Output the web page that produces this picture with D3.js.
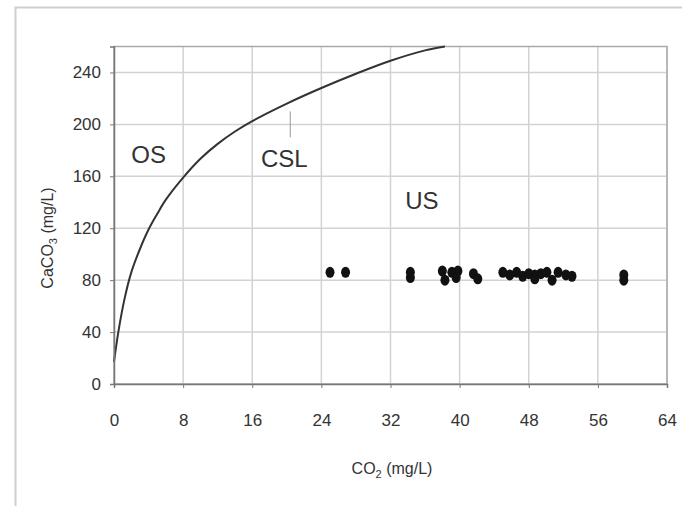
<!DOCTYPE html>
<html>
<head>
<meta charset="utf-8">
<script src="https://cdn.jsdelivr.net/npm/d3@7"></script>
<style>
  body { margin: 0; background: #fff; }
  svg text { font-family: "Liberation Sans", Arial, sans-serif; fill: #333; }
</style>
</head>
<body>
<div id="chart"></div>
<script>
// saturation line (CSL)
const cslCO2 = [0, 0.5, 1.2, 2, 3, 4, 5, 6, 8, 10, 12, 14, 16, 20, 24, 28, 32, 36, 38.3];
const cslCaCO3 = [17, 40, 65, 86, 104, 119, 131, 142, 159, 173.5, 185, 194.5, 202.5, 216, 228, 239, 249, 257, 260];

// measured samples
const sampleCO2 = [25.0, 26.8, 34.3, 34.3, 38.0, 38.3, 39.1, 39.8, 39.6, 41.6, 42.1,
  45.0, 45.8, 46.6, 47.3, 48.0, 48.7, 48.7, 49.4, 50.1, 50.7, 51.4, 52.3, 53.0, 59.0, 59.0];
const sampleCaCO3 = [86, 86, 86, 82, 87, 80, 86, 87, 82, 85, 81,
  86, 84, 86, 83, 85, 84, 81, 85, 86, 80, 86, 84, 83, 84, 80];

const xTicks = [0, 8, 16, 24, 32, 40, 48, 56, 64];
const yTicks = [0, 40, 80, 120, 160, 200, 240];

const regionLabels = [
  { text: "OS", x: 2, y: 170 },
  { text: "CSL", x: 17, y: 167 },
  { text: "US", x: 33.7, y: 135 }
];

const width = 682, height = 506;
const margin = { top: 46.5, right: 15, bottom: 122, left: 114 };

const svg = d3.select("#chart").append("svg")
  .attr("width", width)
  .attr("height", height);

// outer frame
svg.append("rect")
  .attr("x", 15.5).attr("y", 7.5)
  .attr("width", 720).attr("height", 560)
  .attr("fill", "none")
  .attr("stroke", "#d0d0d0")
  .attr("stroke-width", 2);

const x = d3.scaleLinear().domain([0, 64]).range([margin.left, width - margin.right]);
const y = d3.scaleLinear().domain([0, 260]).range([height - margin.bottom, margin.top]);

const g = svg.append("g");

// grid
g.selectAll(".vgrid").data(xTicks).join("line")
  .attr("x1", d => x(d)).attr("x2", d => x(d))
  .attr("y1", y(0)).attr("y2", y(260))
  .attr("stroke", "#d2d2d2").attr("stroke-width", 1.5);

g.selectAll(".hgrid").data(yTicks).join("line")
  .attr("x1", x(0)).attr("x2", x(64))
  .attr("y1", d => y(d)).attr("y2", d => y(d))
  .attr("stroke", "#d2d2d2").attr("stroke-width", 1.5);

// plot border
g.append("rect")
  .attr("x", x(0)).attr("y", y(260))
  .attr("width", x(64) - x(0)).attr("height", y(0) - y(260))
  .attr("fill", "none").attr("stroke", "#aaa").attr("stroke-width", 1.5);

// axes
const xAxis = svg.append("g")
  .attr("transform", `translate(0,${y(0)})`)
  .call(d3.axisBottom(x).tickValues(xTicks).tickSize(4).tickPadding(26));
const yAxis = svg.append("g")
  .attr("transform", `translate(${x(0)},0)`)
  .call(d3.axisLeft(y).tickValues(yTicks).tickSize(4).tickPadding(9));

[xAxis, yAxis].forEach(a => {
  a.select(".domain").attr("stroke", "#777").attr("stroke-width", 1.5);
  a.selectAll(".tick line").attr("stroke", "#777");
  a.selectAll("text").style("font-size", "17px").attr("fill", "#333");
});

// axis titles
svg.append("text")
  .attr("x", 392).attr("y", 474)
  .attr("text-anchor", "middle")
  .style("font-size", "16px")
  .html('CO<tspan dy="4" font-size="11">2</tspan><tspan dy="-4"> (mg/L)</tspan>');

svg.append("text")
  .attr("transform", `translate(53,238) rotate(-90)`)
  .attr("text-anchor", "middle")
  .style("font-size", "16px")
  .html('CaCO<tspan dy="4" font-size="11">3</tspan><tspan dy="-4"> (mg/L)</tspan>');

// CSL curve
const cslData = cslCO2.map((d, i) => [d, cslCaCO3[i]]);
g.append("path")
  .datum(cslData)
  .attr("fill", "none")
  .attr("stroke", "#333")
  .attr("stroke-width", 2)
  .attr("d", d3.line().x(d => x(d[0])).y(d => y(d[1])).curve(d3.curveCatmullRom));

// CSL leader
g.append("line")
  .attr("x1", x(20.4)).attr("x2", x(20.4))
  .attr("y1", y(210)).attr("y2", y(190))
  .attr("stroke", "#999").attr("stroke-width", 1);

// region labels
g.selectAll(".region").data(regionLabels).join("text")
  .attr("x", d => x(d.x)).attr("y", d => y(d.y))
  .style("font-size", "24px")
  .text(d => d.text);

// samples
g.selectAll(".pt").data(sampleCO2.map((d, i) => [d, sampleCaCO3[i]])).join("ellipse")
  .attr("cx", d => x(d[0]))
  .attr("cy", d => y(d[1]))
  .attr("rx", 4.5)
  .attr("ry", 5.5)
  .attr("fill", "#111");
</script>
</body>
</html>
